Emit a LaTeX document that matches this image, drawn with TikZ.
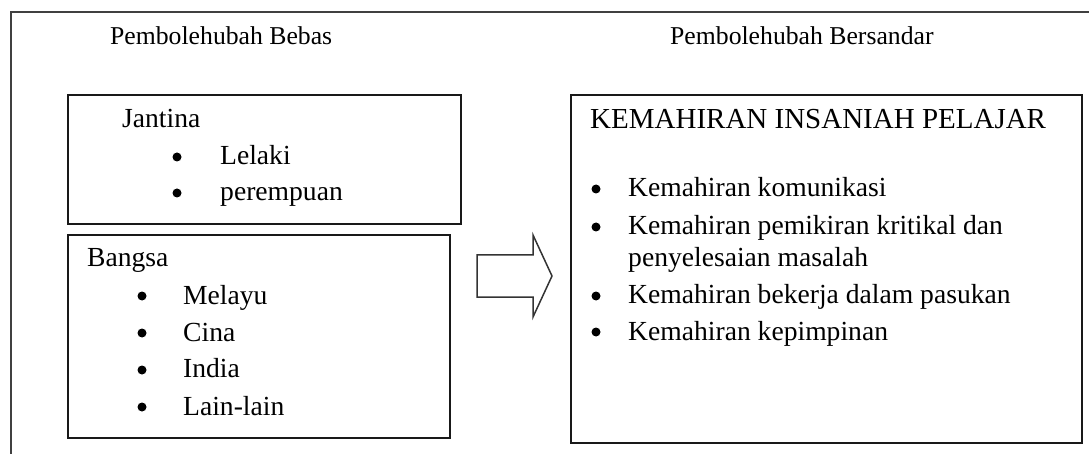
\documentclass[tikz,border=0pt]{standalone}
\usepackage{fontspec}
\setmainfont{Liberation Serif}
\begin{document}
\begin{tikzpicture}[x=1pt,y=-1pt,
  frame/.style={draw=black!75,line width=1.6pt},
  boxstyle/.style={draw=black!90,line width=1.9pt,rectangle,inner sep=0pt,anchor=north west},
  txt/.style={inner sep=0pt,anchor=base west,font=\fontsize{27.6}{32}\selectfont},
  ttl/.style={inner sep=0pt,anchor=base west,font=\fontsize{25.7}{30}\selectfont},
  hdr/.style={inner sep=0pt,anchor=base west,font=\fontsize{29}{34}\selectfont},
  dot/.style={circle,fill=black,inner sep=0pt,minimum size=9pt}]
\useasboundingbox (0,0) rectangle (1089,454);
% outer frame
\coordinate (fbl) at (11,460);
\coordinate (ftl) at (11,12);
\coordinate (ftr) at (1095,12);
\draw[frame] (fbl) -- (ftl) -- (ftr);
% titles
\node[ttl] (t1) at (110,45) {Pembolehubah Bebas};
\node[ttl] (t2) at (670,45) {Pembolehubah Bersandar};
% boxes
\node[boxstyle,minimum width=393pt,minimum height=129pt] (jbox) at (67,94) {};
\node[boxstyle,minimum width=382pt,minimum height=203pt] (bbox) at (67,234) {};
\node[boxstyle,minimum width=511pt,minimum height=348pt] (rbox) at (570,94) {};
% Jantina
\node[txt] (jt) at (122,128) {Jantina};
\node[dot] (jd1) at (177,157) {};
\node[txt] (j1) at (220,165) {Lelaki};
\node[dot] (jd2) at (177,193) {};
\node[txt] (j2) at (220,201) {perempuan};
% Bangsa
\node[txt] (bt) at (87,267) {Bangsa};
\node[dot] (bd1) at (142,296) {};
\node[txt] (b1) at (183,304) {Melayu};
\node[dot] (bd2) at (142,333) {};
\node[txt] (b2) at (183,341) {Cina};
\node[dot] (bd3) at (142,370) {};
\node[txt] (b3) at (183,377) {India};
\node[dot] (bd4) at (142,407) {};
\node[txt] (b4) at (183,415) {Lain-lain};
% right box
\node[hdr] (rh) at (590,129) {KEMAHIRAN INSANIAH PELAJAR};
\node[dot] (rd1) at (596,189) {};
\node[txt] (r1) at (628,197) {Kemahiran komunikasi};
\node[dot] (rd2) at (596,227) {};
\node[txt] (r2) at (628,235) {Kemahiran pemikiran kritikal dan};
\node[txt] (r2b) at (628,266) {penyelesaian masalah};
\node[dot] (rd3) at (596,296) {};
\node[txt] (r3) at (628,303) {Kemahiran bekerja dalam pasukan};
\node[dot] (rd4) at (596,332) {};
\node[txt] (r4) at (628,340) {Kemahiran kepimpinan};
% block arrow
\draw[draw=black!80,line width=1.5pt,fill=white]
  (477,255) -- (533,255) -- (533,235) -- (552,276) -- (533,317) -- (533,297) -- (477,297) -- cycle;
\end{tikzpicture}
\end{document}
